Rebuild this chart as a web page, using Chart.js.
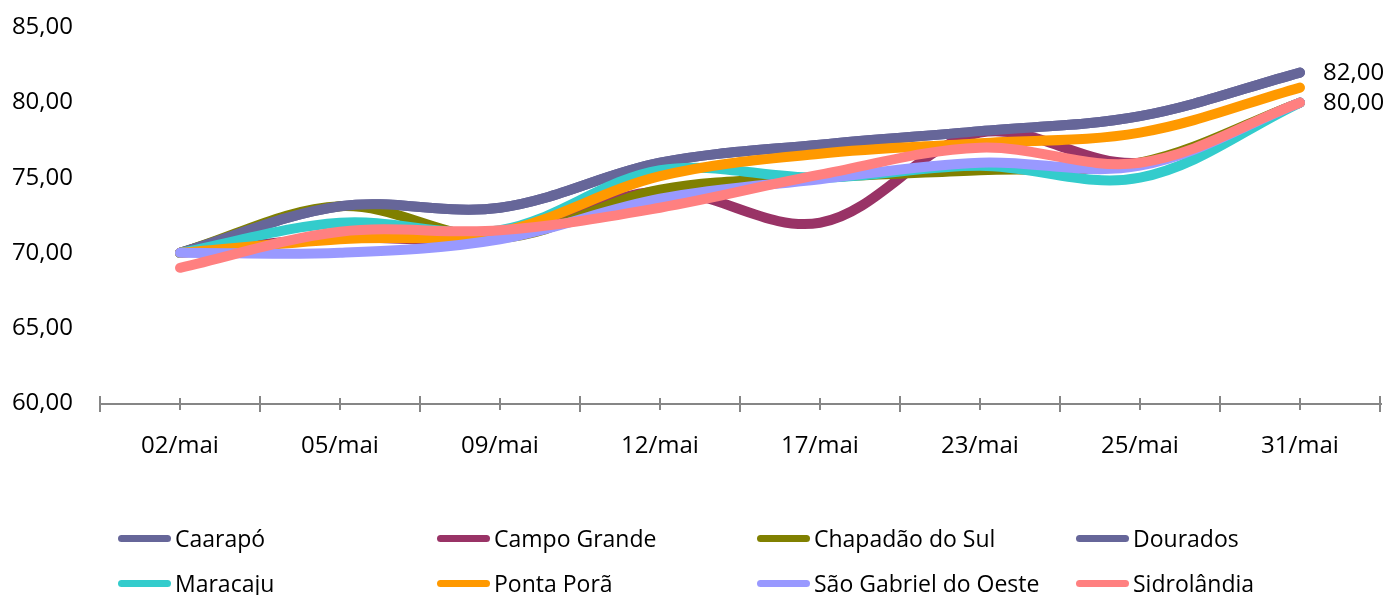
<!DOCTYPE html>
<html lang="pt-BR">
<head>
<meta charset="utf-8">
<title>Preços por município – maio</title>
<script src="https://cdn.jsdelivr.net/npm/chart.js@4/dist/chart.umd.min.js"></script>
<style>
  html, body { margin: 0; padding: 0; background: #fff; overflow: hidden; }
  #wrap { position: relative; width: 1389px; height: 595px; }
  #chart { position: absolute; left: 0; top: 0; }
  .legend-item {
    position: absolute; display: flex; align-items: center;
    font-family: "Open Sans", sans-serif; font-size: 23px; color: #000;
    white-space: nowrap; line-height: 1;
  }
  .legend-item .swatch {
    width: 53px; height: 7px; border-radius: 4px; margin-right: 4px;
  }
</style>
</head>
<body>
<div id="wrap">
  <canvas id="chart" width="1389" height="595"></canvas>
</div>
<script>
// Categories (dates in May)
const dias = ['02/mai', '05/mai', '09/mai', '12/mai', '17/mai', '23/mai', '25/mai', '31/mai'];

// Price series per municipality
const caarapo        = [70, 73.1, 73.0, 76.0, 77.2, 78.1, 79.1, 82];
const campoGrande    = [70, 71.0, 71.0, 74.1, 72.0, 78.0, 76.0, 80];
const chapadaoDoSul  = [70, 73.1, 71.0, 74.2, 75.0, 75.5, 76.0, 80];
const dourados       = [70, 73.1, 73.0, 76.0, 77.2, 78.1, 79.1, 82];
const maracaju       = [70, 72.0, 71.5, 75.5, 75.0, 75.8, 75.0, 80];
const pontaPora      = [70, 70.9, 71.4, 75.1, 76.6, 77.3, 78.0, 81];
const saoGabriel     = [70, 70.0, 70.9, 73.6, 74.9, 76.0, 75.8, 80];
const sidrolandia    = [69, 71.4, 71.5, 73.0, 75.2, 77.0, 76.0, 80];

// Y axis ticks
const yMin = 60, yMax = 85, yStep = 5;

const series = [
  { nome: 'Caarapó',              dados: caarapo,       cor: '#666699' },
  { nome: 'Campo Grande',         dados: campoGrande,   cor: '#993366' },
  { nome: 'Chapadão do Sul',      dados: chapadaoDoSul, cor: '#808000' },
  { nome: 'Dourados',             dados: dourados,      cor: '#666699', rotulo: true },
  { nome: 'Maracaju',             dados: maracaju,      cor: '#33CCCC' },
  { nome: 'Ponta Porã',           dados: pontaPora,     cor: '#FF9900' },
  { nome: 'São Gabriel do Oeste', dados: saoGabriel,    cor: '#9999FF' },
  { nome: 'Sidrolândia',          dados: sidrolandia,   cor: '#FF8080', rotulo: true }
];

const fmt = v => v.toFixed(2).replace('.', ',');
const FONT = '"Open Sans", sans-serif';

// Category axis line with tick marks at centres and boundaries
const eixoX = {
  id: 'eixoX',
  afterDatasetsDraw(chart) {
    const { ctx, chartArea, scales: { x } } = chart;
    const y = chartArea.bottom + 1;
    ctx.save();
    ctx.strokeStyle = '#868686';
    ctx.lineWidth = 2;
    ctx.beginPath();
    ctx.moveTo(chartArea.left, y);
    ctx.lineTo(chartArea.right + 2, y);
    const n = x.ticks.length;
    const half = (x.getPixelForValue(1) - x.getPixelForValue(0)) / 2;
    for (let i = 0; i < n; i++) {
      const c = x.getPixelForValue(i);
      ctx.moveTo(c, y - 6); ctx.lineTo(c, y + 6);
      ctx.moveTo(c - half, y - 8); ctx.lineTo(c - half, y + 8);
      if (i === n - 1) { ctx.moveTo(c + half, y - 8); ctx.lineTo(c + half, y + 8); }
    }
    ctx.stroke();
    ctx.restore();
  }
};

// Value labels at the last point of flagged series
const rotulosFinais = {
  id: 'rotulosFinais',
  afterDatasetsDraw(chart) {
    const { ctx } = chart;
    ctx.save();
    ctx.font = '24px ' + FONT;
    ctx.fillStyle = '#000';
    ctx.textAlign = 'left';
    ctx.textBaseline = 'middle';
    chart.data.datasets.forEach((ds, i) => {
      if (!ds.rotulo) return;
      const meta = chart.getDatasetMeta(i);
      const last = meta.data[meta.data.length - 1];
      ctx.fillText(fmt(ds.data[ds.data.length - 1]), last.x + 23, last.y + 1);
    });
    ctx.restore();
  }
};

new Chart(document.getElementById('chart'), {
  type: 'line',
  data: {
    labels: dias,
    datasets: series.map((s, i) => ({
      label: s.nome,
      data: s.dados,
      borderColor: s.cor,
      backgroundColor: s.cor,
      borderWidth: 10,
      borderCapStyle: 'round',
      borderJoinStyle: 'round',
      pointRadius: 0,
      pointHoverRadius: 0,
      tension: 0.35,
      fill: false,
      order: series.length - i,
      rotulo: !!s.rotulo
    }))
  },
  options: {
    responsive: false,
    animation: false,
    devicePixelRatio: 1,
    layout: { padding: { top: 27.5, right: 9, bottom: 112, left: 0 } },
    plugins: {
      legend: { display: false },
      tooltip: { enabled: false }
    },
    scales: {
      x: {
        type: 'category',
        offset: true,
        grid: { display: false, drawTicks: false },
        border: { display: false },
        ticks: {
          font: { family: FONT, size: 24 },
          color: '#000',
          padding: 29,
          maxRotation: 0,
          autoSkip: false
        },
        afterFit(scale) {
          scale.height = 80;
          scale.paddingLeft = 0;
          scale.paddingRight = 0;
        }
      },
      y: {
        min: yMin,
        max: yMax,
        grid: { display: false, drawTicks: false },
        border: { display: false },
        ticks: {
          stepSize: yStep,
          font: { family: FONT, size: 24 },
          color: '#000',
          padding: 27,
          callback: v => fmt(v)
        },
        afterFit(scale) {
          scale.width = 100;
          scale.paddingTop = 0;
          scale.paddingBottom = 0;
        }
      }
    }
  },
  plugins: [eixoX, rotulosFinais]
});

// Legend: four columns, two rows
const wrap = document.getElementById('wrap');
const colunas = [118, 437, 757, 1076];
const linhas = [538, 583];
series.forEach((s, i) => {
  const item = document.createElement('div');
  item.className = 'legend-item';
  item.style.left = colunas[i % 4] + 'px';
  item.style.top = (linhas[Math.floor(i / 4)] - 15) + 'px';
  item.style.height = '30px';
  const sw = document.createElement('span');
  sw.className = 'swatch';
  sw.style.background = s.cor;
  const txt = document.createElement('span');
  txt.textContent = s.nome;
  item.appendChild(sw);
  item.appendChild(txt);
  wrap.appendChild(item);
});
</script>
</body>
</html>
